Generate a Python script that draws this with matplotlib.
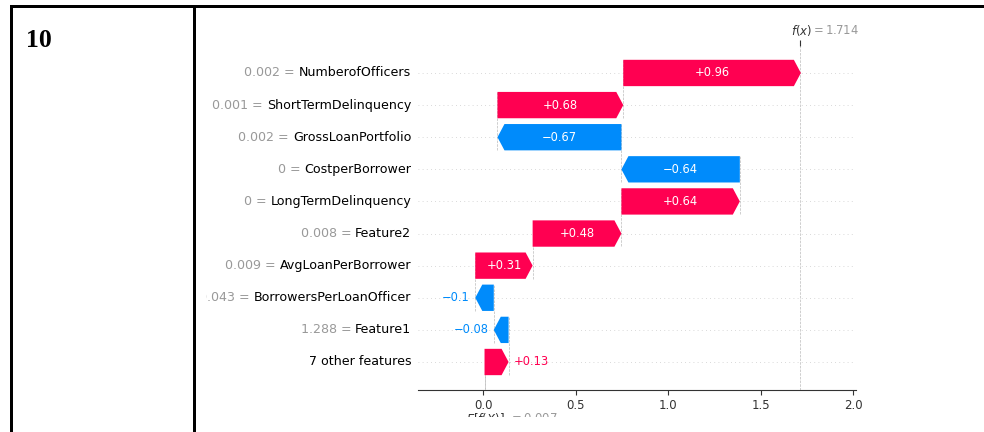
import matplotlib
matplotlib.use("Agg")
import matplotlib.pyplot as plt
from matplotlib.patches import Rectangle
from matplotlib.transforms import Bbox, TransformedBbox, offset_copy

# ---- data -------------------------------------------------------------
row_label = "10"
features = ["NumberofOfficers", "ShortTermDelinquency", "GrossLoanPortfolio",
            "CostperBorrower", "LongTermDelinquency", "Feature2",
            "AvgLoanPerBorrower", "BorrowersPerLoanOfficer", "Feature1",
            "7 other features"]
feature_values = ["0.002", "0.001", "0.002", "0", "0", "0.008", "0.009",
                  "0.043", "1.288", None]
shap_values = [0.96, 0.68, -0.67, -0.64, 0.64, 0.48, 0.31, -0.10, -0.08, 0.13]
base_value = 0.007
fx_value = 1.714
xticks = [0.0, 0.5, 1.0, 1.5, 2.0]

# ---- style ------------------------------------------------------------
RED = "#ff0051"
BLUE = "#008bfb"
GRAY = "#999999"
W, H = 984, 432

fig = plt.figure(figsize=(W / 100, H / 100), dpi=100)


def px(x):
    return x / W


def py(y):
    return 1 - y / H


# table cell borders
for x0, y0, x1, y1 in [(10, 5, 984, 8), (10, 5, 13, 432), (193, 5, 196, 432)]:
    fig.add_artist(Rectangle((px(x0), py(y1)), (x1 - x0) / W, (y1 - y0) / H,
                             transform=fig.transFigure, color="black", lw=0))
fig.text(px(26), py(40.5), row_label, family="Liberation Serif", weight="bold",
         fontsize=18.5, va="center", ha="left")

# region of the cell that holds the waterfall picture
clip = TransformedBbox(Bbox([[205.5 / W, 15 / H], [1, 1]]), fig.transFigure)


def clipped(t):
    t.set_clip_on(True)
    t.set_clip_box(clip)
    return t


ax = fig.add_axes([px(418.3), py(390), (856 - 418.3) / W, (390 - 46) / H])
n = len(features)
ys = [n - 1 - i for i in range(n)]
ax.set_xlim(-0.351, 2.015)
ax.set_ylim(-0.872, n - 1 + 0.84)

for y in ys:
    ax.axhline(y, color="#cccccc", lw=0.6, dashes=(1, 4), zorder=-1)

fig.canvas.draw()
renderer = fig.canvas.get_renderer()
px_per_unit = ax.bbox.width / (ax.get_xlim()[1] - ax.get_xlim()[0])
head = 7.0 / px_per_unit


def fmt(v):
    s = f"{v:+.2f}".rstrip("0").rstrip(".")
    return s.replace("-", "\u2212")


cum = base_value
starts = [0.0] * n
for i in range(n - 1, -1, -1):
    starts[i] = cum
    cum += shap_values[i]

right_off = offset_copy(ax.transData, fig, x=5.5, y=0, units="dots")
left_off = offset_copy(ax.transData, fig, x=-5.5, y=0, units="dots")

for i in range(n):
    v = shap_values[i]
    s = starts[i]
    y = ys[i]
    color = RED if v >= 0 else BLUE
    ax.arrow(s, y, v, 0, width=0.82, head_width=0.82,
             head_length=min(abs(v), head), length_includes_head=True,
             color=color, lw=0, zorder=2)
    # connector from the start of this bar down to the row below
    ax.plot([s, s], [y - 1 - 0.4, y + 0.4], color="#bbbbbb", ls="--",
            lw=0.5, zorder=-1)
    t = ax.text(s + v / 2, y, fmt(v), ha="center", va="center",
                color="white", fontsize=8.3, zorder=3)
    if t.get_window_extent(renderer).width + 4 > abs(v) * px_per_unit:
        t.remove()
        if v >= 0:
            ax.text(s + v, y, fmt(v), ha="left", va="center", color=RED,
                    fontsize=8.3, transform=right_off)
        else:
            ax.text(s + v, y, fmt(v), ha="right", va="center", color=BLUE,
                    fontsize=8.3, transform=left_off)

ax.axvline(fx_value, 0, 1, color="#bbbbbb", ls="--", lw=0.5, zorder=-1)
ax.axvline(base_value, 0, 0.05, color="#bbbbbb", ls="--", lw=0.5, zorder=-1)

# feature labels: black name, gray "value =" to its left
label_pad = 7
for i in range(n):
    name = features[i]
    tr = offset_copy(ax.get_yaxis_transform(), fig, x=-label_pad, y=0, units="dots")
    t = clipped(ax.text(0, ys[i], name, ha="right", va="center", color="black",
                        fontsize=9.1, transform=tr))
    if feature_values[i] is not None:
        w = t.get_window_extent(renderer).width
        tr2 = offset_copy(ax.get_yaxis_transform(), fig,
                          x=-(label_pad + w + 4), y=0, units="dots")
        clipped(ax.text(0, ys[i], f"{feature_values[i]} =", ha="right",
                        va="center", color=GRAY, fontsize=9.1, transform=tr2))

for side in ("left", "right", "top"):
    ax.spines[side].set_visible(False)
ax.spines["bottom"].set_color("#333333")
ax.set_yticks([])
ax.set_xticks(xticks)
ax.set_xticklabels([f"{t:.1f}" for t in xticks])
ax.tick_params(axis="x", colors="#333333", labelsize=8.5, length=3.5, pad=3)

# model output marker at the top
top = ax.twiny()
top.set_xlim(ax.get_xlim())
top.set_xticks([fx_value])
top.set_xticklabels([""])
top.tick_params(axis="x", colors="#333333", length=4)
for side in ("left", "right", "top", "bottom"):
    top.spines[side].set_visible(False)
top.set_yticks([])

ax.annotate("$f(x)$", xy=(fx_value, 1), xycoords=("data", "axes fraction"),
            xytext=(-9.5, 15), textcoords="offset pixels", ha="left",
            va="center", fontsize=8.4, color="#333333")
ax.annotate("$=1.714$", xy=(fx_value, 1), xycoords=("data", "axes fraction"),
            xytext=(11, 15), textcoords="offset pixels", ha="left",
            va="center", fontsize=8.4, color=GRAY)

# expected value marker below the axis
clipped(ax.annotate("$E[f(X)]$", xy=(base_value, 0),
                    xycoords=("data", "axes fraction"), xytext=(-19, -29),
                    textcoords="offset pixels", ha="left", va="center",
                    fontsize=8.4, color="#333333"))
clipped(ax.annotate(f"$={base_value:.3f}$", xy=(base_value, 0),
                    xycoords=("data", "axes fraction"), xytext=(24, -29),
                    textcoords="offset pixels", ha="left", va="center",
                    fontsize=8.4, color=GRAY))

fig.savefig("out.png", dpi=100)
